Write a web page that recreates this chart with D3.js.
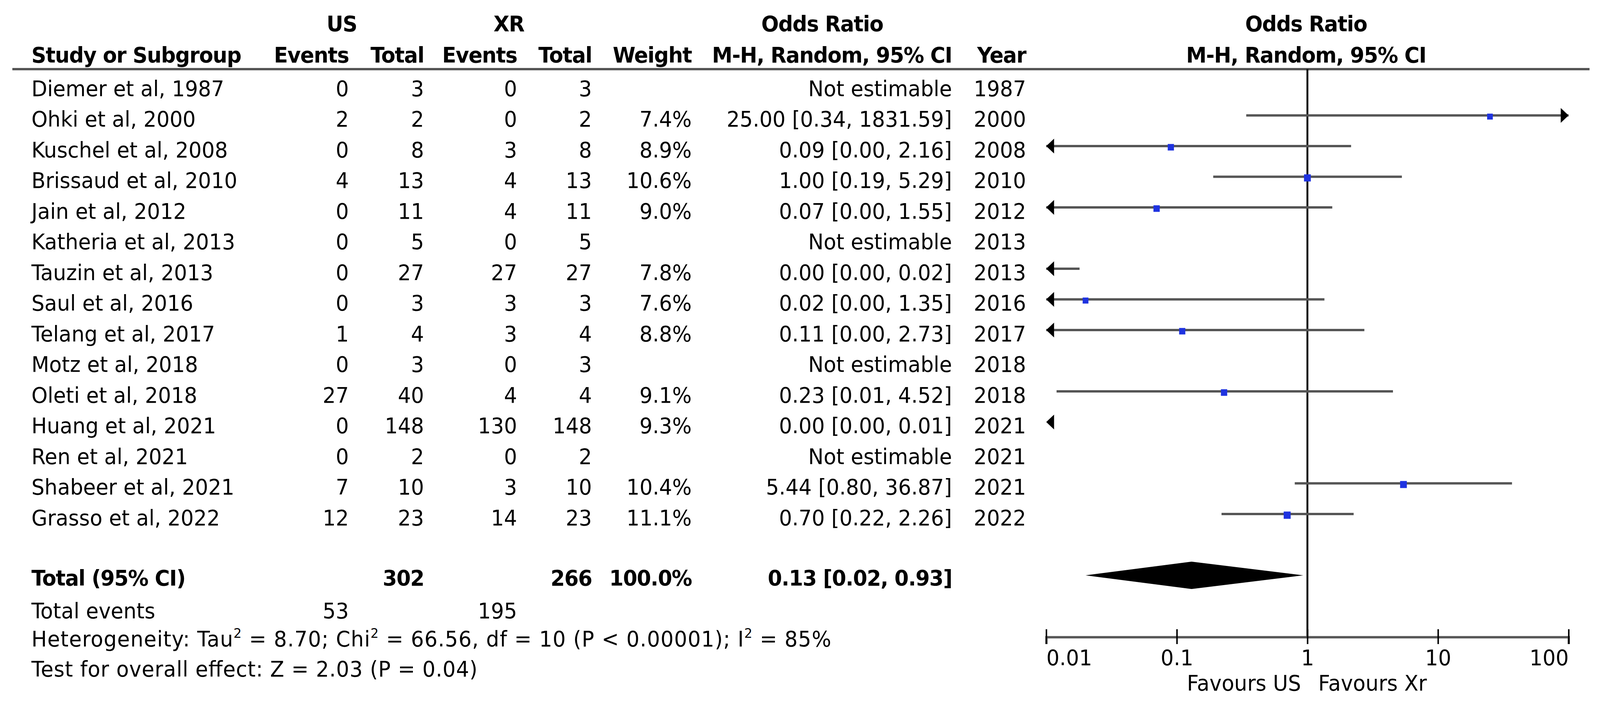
<!doctype html>
<html lang="en">
<head>
    <meta charset="utf-8">
    <script src="https://d3js.org/d3.v7.min.js"></script>
    <style>
        html, body { margin: 0; padding: 0; background: #fff; overflow: hidden; }
        svg { display: block; width: 100vw; height: 100vh; }
        svg text { font-family: "DejaVu Sans", Verdana, sans-serif; font-size: 55px; fill: #000; }
        .bold { font-weight: bold; letter-spacing: -1.4px; }
    </style>
    <title>Forest plot</title>
</head>
<body>
<script>
    // study table
    var studies = ["Diemer et al, 1987", "Ohki et al, 2000", "Kuschel et al, 2008", "Brissaud et al, 2010",
        "Jain et al, 2012", "Katheria et al, 2013", "Tauzin et al, 2013", "Saul et al, 2016",
        "Telang et al, 2017", "Motz et al, 2018", "Oleti et al, 2018", "Huang et al, 2021",
        "Ren et al, 2021", "Shabeer et al, 2021", "Grasso et al, 2022"];
    var usEvents = [0, 2, 0, 4, 0, 0, 0, 0, 1, 0, 27, 0, 0, 7, 12];
    var usTotal  = [3, 2, 8, 13, 11, 5, 27, 3, 4, 3, 40, 148, 2, 10, 23];
    var xrEvents = [0, 0, 3, 4, 4, 0, 27, 3, 3, 0, 4, 130, 0, 3, 14];
    var xrTotal  = [3, 2, 8, 13, 11, 5, 27, 3, 4, 3, 4, 148, 2, 10, 23];
    var weights  = [null, 7.4, 8.9, 10.6, 9.0, null, 7.8, 7.6, 8.8, null, 9.1, 9.3, null, 10.4, 11.1];
    var years    = [1987, 2000, 2008, 2010, 2012, 2013, 2013, 2016, 2017, 2018, 2018, 2021, 2021, 2021, 2022];

    // odds ratios and 95% CI (null = not estimable)
    var orValue = [null, 25.00, 0.09, 1.00, 0.07, null, 0.00, 0.02, 0.11, null, 0.23, 0.00, null, 5.44, 0.70];
    var ciLow   = [null, 0.34, 0.00, 0.19, 0.00, null, 0.00, 0.00, 0.00, null, 0.012, 0.00, null, 0.80, 0.22];
    var ciHigh  = [null, 1831.59, 2.16, 5.29, 1.55, null, 0.018, 1.35, 2.73, null, 4.52, 0.01, null, 36.87, 2.26];
    var ciLabels = ["Not estimable", "25.00 [0.34, 1831.59]", "0.09 [0.00, 2.16]", "1.00 [0.19, 5.29]",
        "0.07 [0.00, 1.55]", "Not estimable", "0.00 [0.00, 0.02]", "0.02 [0.00, 1.35]", "0.11 [0.00, 2.73]",
        "Not estimable", "0.23 [0.01, 4.52]", "0.00 [0.00, 0.01]", "Not estimable", "5.44 [0.80, 36.87]",
        "0.70 [0.22, 2.26]"];

    // pooled
    var pooled = {or: 0.13, lo: 0.02, hi: 0.93, label: "0.13 [0.02, 0.93]"};
    var totals = {us: 302, xr: 266, weight: "100.0%", usEvents: 53, xrEvents: 195};

    var tickValues = [0.01, 0.1, 1, 10, 100];
    var tickLabels = ["0.01", "0.1", "1", "10", "100"];

    var W = 4279, H = 1805;
    // stretch the drawing to the window, whatever its css size
    var svg = d3.select("body").append("svg")
        .attr("viewBox", "0 0 " + W + " " + H)
        .attr("preserveAspectRatio", "none");
    svg.append("rect").attr("width", W).attr("height", H).attr("fill", "#fff");

    // row positions
    var y = d3.scaleLinear().domain([0, 1]).range([217, 295.5]);
    var x = d3.scaleLog().domain([0.01, 100]).range([2798, 4195]);
    var baseOff = 29;

    // column right edges
    var col = {study: 84, usEv: 933, usTot: 1134, xrEv: 1383, xrTot: 1583, weight: 1850, ci: 2546, year: 2744};

    function txt(xp, yp, s, anchor, cls) {
        return svg.append("text")
            .attr("x", xp).attr("y", yp)
            .attr("text-anchor", anchor || "end")
            .attr("class", cls || null)
            .text(s);
    }

    // headers
    txt(914, 80, "US", "middle", "bold");
    txt(1361, 80, "XR", "middle", "bold");
    txt(2199, 80, "Odds Ratio", "middle", "bold");
    txt(3493, 80, "Odds Ratio", "middle", "bold");
    txt(col.study, 160, "Study or Subgroup", "start", "bold");
    txt(col.usEv, 160, "Events", "end", "bold");
    txt(col.usTot, 160, "Total", "end", "bold");
    txt(col.xrEv, 160, "Events", "end", "bold");
    txt(col.xrTot, 160, "Total", "end", "bold");
    txt(col.weight, 160, "Weight", "end", "bold");
    txt(col.ci, 160, "M-H, Random, 95% CI", "end", "bold");
    txt(col.year, 160, "Year", "end", "bold");
    txt(3493, 160, "M-H, Random, 95% CI", "middle", "bold");

    // header rule
    svg.append("line")
        .attr("x1", 33).attr("x2", 4251)
        .attr("y1", 177).attr("y2", 177)
        .attr("stroke", "#555").attr("stroke-width", 6);

    // table rows
    studies.forEach(function(s, i) {
        var yb = y(i) + baseOff;
        txt(col.study, yb, s, "start");
        txt(col.usEv, yb, usEvents[i]);
        txt(col.usTot, yb, usTotal[i]);
        txt(col.xrEv, yb, xrEvents[i]);
        txt(col.xrTot, yb, xrTotal[i]);
        if (weights[i] != null) txt(col.weight, yb, weights[i].toFixed(1) + "%");
        txt(col.ci, yb, ciLabels[i]);
        txt(col.year, yb, years[i]);
    });

    // total rows
    var yTot = y(16);
    txt(col.study, yTot + 26, "Total (95% CI)", "start", "bold");
    txt(col.usTot, yTot + 26, totals.us, "end", "bold");
    txt(col.xrTot, yTot + 26, totals.xr, "end", "bold");
    txt(col.weight, yTot + 26, totals.weight, "end", "bold");
    txt(col.ci, yTot + 26, pooled.label, "end", "bold");

    txt(col.study, 1583, "Total events", "start");
    txt(col.usEv, 1583, totals.usEvents);
    txt(col.xrEv, 1583, totals.xrEvents);

    var het = svg.append("text").attr("x", col.study).attr("y", 1655)
        .attr("textLength", 2139).attr("lengthAdjust", "spacing");
    het.append("tspan").text("Heterogeneity: Tau");
    het.append("tspan").attr("dy", -22).style("font-size", "34px").text("2");
    het.append("tspan").attr("dy", 22).text(" = 8.70; Chi");
    het.append("tspan").attr("dy", -22).style("font-size", "34px").text("2");
    het.append("tspan").attr("dy", 22).text(" = 66.56, df = 10 (P < 0.00001); I");
    het.append("tspan").attr("dy", -22).style("font-size", "34px").text("2");
    het.append("tspan").attr("dy", 22).text(" = 85%");

    txt(col.study, 1732, "Test for overall effect: Z = 2.03 (P = 0.04)", "start")
        .attr("textLength", 1193).attr("lengthAdjust", "spacing");

    // plot: null line
    var axisY = 1631;
    svg.append("line")
        .attr("x1", x(1)).attr("x2", x(1))
        .attr("y1", 177).attr("y2", axisY)
        .attr("stroke", "#000").attr("stroke-width", 5);

    var xMin = x.domain()[0], xMax = x.domain()[1];
    var plot = svg.append("g");

    studies.forEach(function(s, i) {
        if (orValue[i] == null) return;
        var yc = y(i);
        var lo = Math.max(ciLow[i], xMin), hi = Math.min(ciHigh[i], xMax);
        plot.append("line")
            .attr("x1", x(lo)).attr("x2", x(Math.max(hi, xMin)))
            .attr("y1", yc).attr("y2", yc)
            .attr("stroke", "#555").attr("stroke-width", 6);
        if (ciLow[i] < xMin) {
            var xl = x(xMin);
            plot.append("path")
                .attr("d", "M" + xl + "," + yc + "L" + (xl + 21) + "," + (yc - 19) + "L" + (xl + 21) + "," + (yc + 19) + "Z")
                .attr("fill", "#000");
        }
        if (ciHigh[i] > xMax) {
            var xr = x(xMax);
            plot.append("path")
                .attr("d", "M" + xr + "," + yc + "L" + (xr - 21) + "," + (yc - 19) + "L" + (xr - 21) + "," + (yc + 19) + "Z")
                .attr("fill", "#000");
        }
        if (orValue[i] >= xMin && orValue[i] <= xMax) {
            var side = 5.6 * Math.sqrt(weights[i]);
            plot.append("rect")
                .attr("x", x(orValue[i]) - side / 2)
                .attr("y", yc + 3 - side / 2)
                .attr("width", side).attr("height", side)
                .attr("fill", "#1f33e0");
        }
    });

    // pooled diamond
    svg.append("path")
        .attr("d", "M" + x(pooled.lo) + "," + yTot +
            "L" + x(pooled.or) + "," + (yTot - 35) +
            "L" + x(pooled.hi) + "," + yTot +
            "L" + x(pooled.or) + "," + (yTot + 35) + "Z")
        .attr("fill", "#000");

    // x axis
    var axis = svg.append("g")
        .attr("transform", "translate(0," + axisY + ")")
        .call(d3.axisBottom(x)
            .tickValues(tickValues)
            .tickFormat(function(d, i) { return tickLabels[i]; })
            .tickSizeOuter(0)
            .tickSize(18)
            .tickPadding(52));
    axis.attr("font-family", null).attr("font-size", null);
    axis.select(".domain").attr("stroke", "#555").attr("stroke-width", 6);
    axis.selectAll(".tick line").attr("y1", -20).attr("y2", 18).attr("stroke", "#000").attr("stroke-width", 4);
    axis.selectAll(".tick text")
        .attr("dy", null)
        .attr("y", 72)
        .attr("text-anchor", function(d, i) { return i === 0 ? "start" : (i === tickValues.length - 1 ? "end" : "middle"); });

    txt(x(1) - 17, 1768, "Favours US", "end");
    txt(x(1) + 29, 1768, "Favours Xr", "start");
</script>
</body>
</html>
